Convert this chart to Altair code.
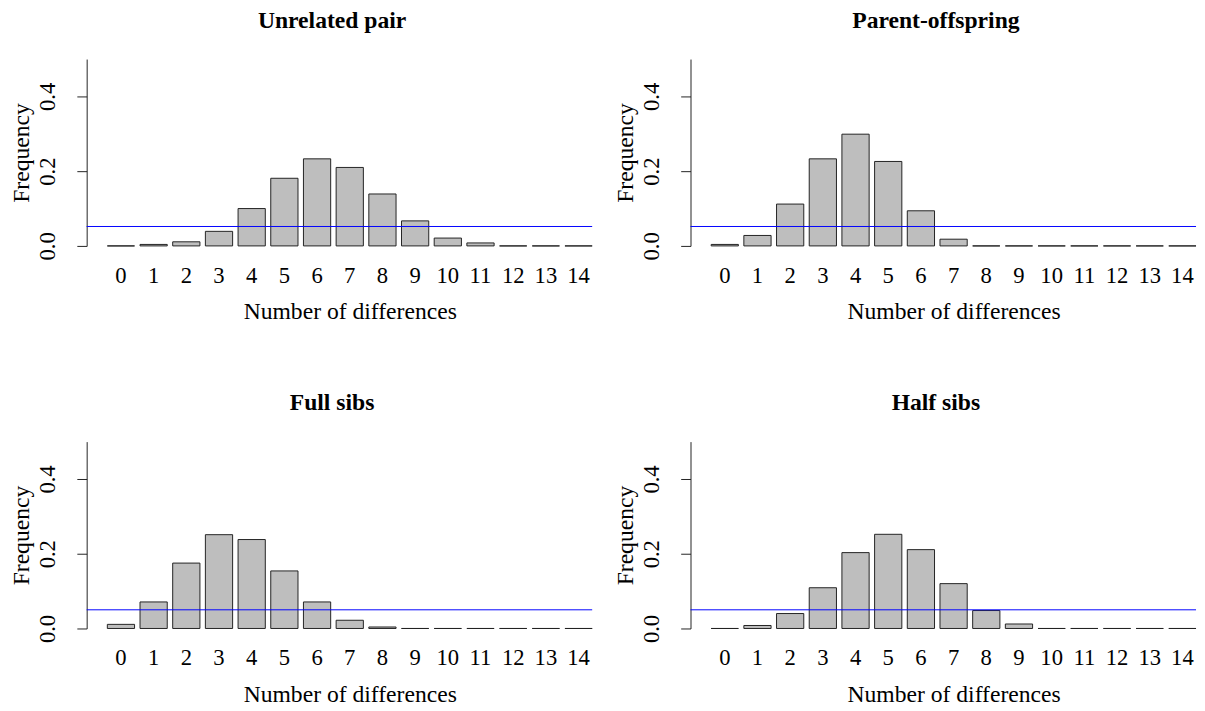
import altair as alt
import pandas as pd

diffs = list(range(15))
panel_titles = ["Unrelated pair", "Parent-offspring", "Full sibs", "Half sibs"]
unrelated = [0.0, 0.004, 0.011, 0.039, 0.100, 0.181, 0.233, 0.210, 0.139, 0.067, 0.021, 0.008, 0.0, 0.0, 0.0]
parent_offspring = [0.004, 0.028, 0.112, 0.233, 0.299, 0.226, 0.094, 0.018, 0.0, 0.0, 0.0, 0.0, 0.0, 0.0, 0.0]
full_sibs = [0.011, 0.071, 0.175, 0.251, 0.238, 0.154, 0.071, 0.022, 0.004, 0.0, 0.0, 0.0, 0.0, 0.0, 0.0]
half_sibs = [0.0, 0.008, 0.040, 0.109, 0.203, 0.252, 0.211, 0.120, 0.048, 0.012, 0.0, 0.0, 0.0, 0.0, 0.0]
thresholds = [0.052, 0.052, 0.05, 0.05]
y_ticks = [0.0, 0.1, 0.2, 0.3, 0.4, 0.5]

FONT = "Liberation Serif"
W = 493
H = 190
AXIS_OFF = 21


def panel(title, values, thr):
    df = pd.DataFrame({"diff": diffs, "freq": values})
    bars = alt.Chart(df).mark_bar(
        fill="#BEBEBE", stroke="#222222", strokeWidth=1
    ).encode(
        x=alt.X("diff:O",
                scale=alt.Scale(paddingInner=0.167, paddingOuter=0),
                axis=alt.Axis(title="Number of differences", labelAngle=0,
                              domain=False, ticks=False, labelPadding=19,
                              titlePadding=13)),
        y=alt.Y("freq:Q",
                scale=alt.Scale(domain=[0, 0.5], nice=False, zero=True),
                axis=alt.Axis(title="Frequency", values=y_ticks, offset=AXIS_OFF,
                              labelExpr="(round(datum.value*10) % 2 == 0) ? format(datum.value, '.1f') : ''",
                              labelAngle=270, labelAlign="center", labelBaseline="bottom",
                              labelPadding=18, tickSize=10, titlePadding=3,
                              grid=False)),
    )
    rule = alt.Chart(pd.DataFrame({"thr": [thr]})).mark_rule(
        color="#0000FF", strokeWidth=1
    ).encode(
        y="thr:Q",
        x=alt.value(-AXIS_OFF),
        x2=alt.value(W),
    )
    return alt.layer(bars, rule).properties(
        width=W, height=H,
        title=alt.TitleParams(title, fontSize=24, font=FONT, fontWeight="bold",
                              anchor="middle", offset=27, dx=-18, color="black"),
    )


p1 = panel(panel_titles[0], unrelated, thresholds[0])
p2 = panel(panel_titles[1], parent_offspring, thresholds[1])
p3 = panel(panel_titles[2], full_sibs, thresholds[2])
p4 = panel(panel_titles[3], half_sibs, thresholds[3])

chart = alt.vconcat(
    alt.hconcat(p1, p2, spacing=21),
    alt.hconcat(p3, p4, spacing=21),
    spacing=69,
).properties(padding={"left": 2, "top": -5, "right": 0, "bottom": 0}).configure_view(stroke=None).configure_axis(
    labelFont=FONT, titleFont=FONT, labelFontSize=23, titleFontSize=24,
    labelColor="black", titleColor="black", domainColor="#222222",
    tickColor="#222222", titleFontWeight="normal", labelFlush=False,
    labelOverlap=False,
)

chart.save("out.html", embed_options={"renderer": "svg", "actions": False})
